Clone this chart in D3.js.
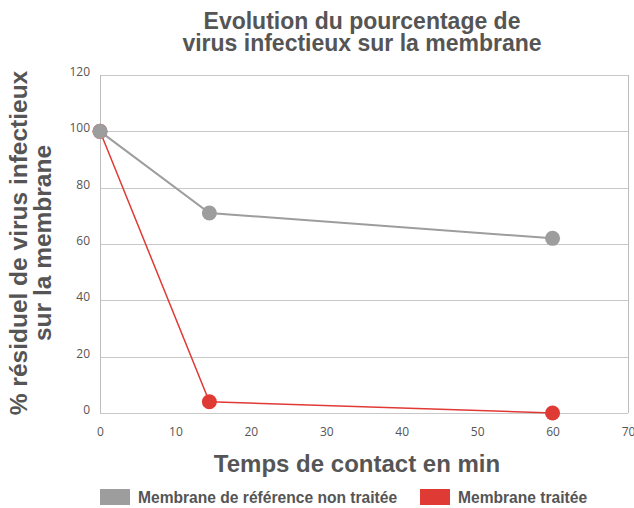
<!DOCTYPE html>
<html>
<head>
<meta charset="utf-8">
<script src="https://cdn.jsdelivr.net/npm/d3@7"></script>
<style>
  body { margin: 0; background: #fff; }
</style>
</head>
<body>
<div id="chart"></div>
<script>
// chart values
const times = [0, 14.5, 60];
const referenceValues = [100, 71, 62];
const treatedValues = [100, 4, 0];
const seriesNames = ['Membrane de référence non traitée', 'Membrane traitée'];
const seriesColours = ['#9d9d9d', '#e03a35'];
const xTicks = [0, 10, 20, 30, 40, 50, 60, 70];
const yTicks = [0, 20, 40, 60, 80, 100, 120];

const width = 634;
const height = 508;
const margin = { top: 75, right: 6, bottom: 95, left: 100 };

const x = d3.scaleLinear().domain([0, 70]).range([margin.left, width - margin.right]);
const y = d3.scaleLinear().domain([0, 120]).range([height - margin.bottom, margin.top]);

const svg = d3
  .select('#chart')
  .append('svg')
  .attr('width', width)
  .attr('height', height);

const titleFont = '"Liberation Sans", Arial, sans-serif';
const tickFont = '"Open Sans", sans-serif';

// Title
svg
  .append('text')
  .attr('x', 362)
  .attr('y', 29)
  .attr('text-anchor', 'middle')
  .attr('font-family', titleFont)
  .attr('font-weight', 'bold')
  .attr('font-size', 23)
  .attr('fill', '#555')
  .selectAll('tspan')
  .data(['Evolution du pourcentage de', 'virus infectieux sur la membrane'])
  .join('tspan')
  .attr('x', 362)
  .attr('dy', (d, i) => (i === 0 ? 0 : 22))
  .text(d => d);

// Horizontal grid lines
svg
  .append('g')
  .attr('stroke', '#c8c8c8')
  .attr('stroke-width', 1)
  .selectAll('line')
  .data(yTicks)
  .join('line')
  .attr('x1', margin.left)
  .attr('x2', width - margin.right)
  .attr('y1', d => Math.round(y(d)) + 0.5)
  .attr('y2', d => Math.round(y(d)) + 0.5);

// plot border (left and right)
svg
  .append('g')
  .attr('stroke', '#bdbdbd')
  .selectAll('line')
  .data([0, 70])
  .join('line')
  .attr('x1', d => Math.round(x(d)) + 0.5)
  .attr('x2', d => Math.round(x(d)) + 0.5)
  .attr('y1', y(120))
  .attr('y2', y(0));

// Y axis labels
const yAxis = d3.axisLeft(y).tickValues(yTicks).tickSize(0).tickPadding(10);
svg
  .append('g')
  .attr('transform', `translate(${margin.left},0)`)
  .call(yAxis)
  .call(g => g.select('.domain').remove())
  .call(g =>
    g
      .selectAll('text')
      .attr('font-family', tickFont)
      .attr('font-size', 12)
      .attr('fill', '#555')
      .attr('dy', '0.05em')
  );

// X axis labels
const xAxis = d3.axisBottom(x).tickValues(xTicks).tickSize(0).tickPadding(14);
svg
  .append('g')
  .attr('transform', `translate(0,${y(0)})`)
  .call(xAxis)
  .call(g => g.select('.domain').remove())
  .call(g =>
    g
      .selectAll('text')
      .attr('font-family', tickFont)
      .attr('font-size', 12)
      .attr('fill', '#555')
  );

// Axis titles
svg
  .append('text')
  .attr('x', 357)
  .attr('y', 472)
  .attr('text-anchor', 'middle')
  .attr('font-family', titleFont)
  .attr('font-weight', 'bold')
  .attr('font-size', 24)
  .attr('fill', '#555')
  .text('Temps de contact en min');

svg
  .append('g')
  .attr('transform', 'translate(0,243) rotate(-90)')
  .selectAll('text')
  .data(['% résiduel de virus infectieux', 'sur la membrane'])
  .join('text')
  .attr('x', 0)
  .attr('y', (d, i) => 27 + i * 24)
  .attr('text-anchor', 'middle')
  .attr('font-family', titleFont)
  .attr('font-weight', 'bold')
  .attr('font-size', 24.5)
  .attr('fill', '#555')
  .text(d => d);

// Lines and points
const series = [referenceValues, treatedValues].map((vals, i) => ({
  name: seriesNames[i],
  colour: seriesColours[i],
  points: times.map((t, j) => ({ t, v: vals[j] })),
}));

const line = d3
  .line()
  .x(d => x(d.t))
  .y(d => y(d.v));

svg
  .append('g')
  .attr('fill', 'none')
  .selectAll('path')
  .data(series)
  .join('path')
  .attr('stroke', d => d.colour)
  .attr('stroke-width', (d, i) => (i === 0 ? 2 : 1.5))
  .attr('d', d => line(d.points));

// draw red first so the grey point at 0 sits on top
svg
  .append('g')
  .selectAll('g')
  .data(series.slice().reverse())
  .join('g')
  .attr('fill', d => d.colour)
  .selectAll('circle')
  .data(d => d.points)
  .join('circle')
  .attr('cx', d => x(d.t))
  .attr('cy', d => y(d.v))
  .attr('r', 7.5);

// Legend
const legendX = [100, 420];
const legend = svg
  .append('g')
  .selectAll('g')
  .data(series)
  .join('g')
  .attr('transform', (d, i) => `translate(${legendX[i]},489)`);

legend
  .append('rect')
  .attr('width', 30)
  .attr('height', 16)
  .attr('fill', d => d.colour);

legend
  .append('text')
  .attr('x', 38)
  .attr('y', 14)
  .attr('font-family', titleFont)
  .attr('font-weight', 'bold')
  .attr('font-size', 15.6)
  .attr('fill', '#555')
  .text(d => d.name);
</script>
</body>
</html>
